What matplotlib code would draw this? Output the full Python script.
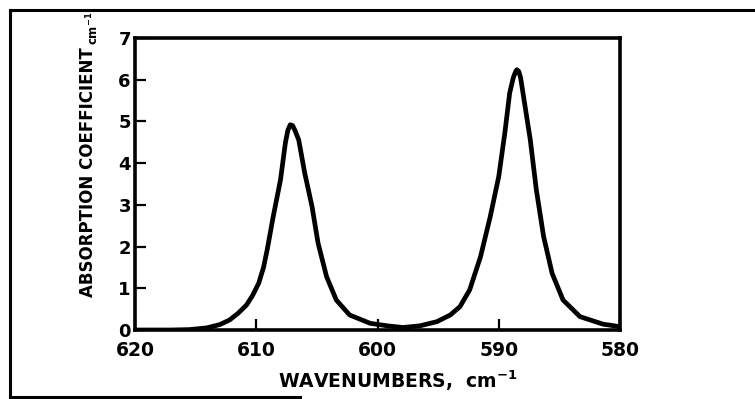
import numpy as np
import matplotlib.pyplot as plt
from matplotlib.lines import Line2D

# absorption spectrum (wavenumber in cm-1, coefficient in cm-1)
wavenumber = [620.0, 617.0, 615.5, 614.1, 613.0, 612.2, 611.5, 610.8, 610.3, 609.8,
              609.4, 609.1, 608.6, 608.0, 607.6, 607.4, 607.2, 607.0, 606.8, 606.5,
              606.0, 605.4, 604.9, 604.2, 603.4, 602.3, 600.6, 599.2, 597.9, 596.5,
              595.1, 594.0, 593.2, 592.4, 591.5, 590.7, 590.0, 589.5, 589.1, 588.8,
              588.6, 588.5, 588.35, 588.2, 588.0, 587.4, 586.9, 586.3, 585.6, 584.7,
              583.3, 581.4, 580.0]
coefficient = [0.0, 0.0, 0.01, 0.05, 0.13, 0.24, 0.4, 0.6, 0.83, 1.12,
               1.5, 1.92, 2.72, 3.6, 4.48, 4.78, 4.92, 4.9, 4.78, 4.56,
               3.76, 2.96, 2.08, 1.28, 0.72, 0.36, 0.16, 0.1, 0.06, 0.1,
               0.2, 0.36, 0.56, 0.96, 1.76, 2.72, 3.68, 4.72, 5.68, 6.05,
               6.2, 6.24, 6.2, 6.05, 5.68, 4.56, 3.36, 2.24, 1.36, 0.72,
               0.32, 0.14, 0.08]

xticks = [620, 610, 600, 590, 580]
yticks = [0, 1, 2, 3, 4, 5, 6, 7]

W, H = 755, 399
fig = plt.figure(figsize=(W / 100, H / 100), dpi=100)
fig.patch.set_facecolor('white')

ax = fig.add_axes([135 / W, 1 - 330 / H, 485 / W, 292 / H])
ax.plot(wavenumber, coefficient, color='black', lw=3.4, solid_capstyle='round', solid_joinstyle='round')
ax.set_xlim(620, 580)
ax.set_ylim(0, 7)
ax.set_xticks(xticks)
ax.set_yticks(yticks)
ax.set_xticklabels([str(t) for t in xticks], fontsize=13.5, fontweight='bold')
ax.set_yticklabels([str(t) for t in yticks], fontsize=13, fontweight='bold')
ax.tick_params(axis='both', direction='in', length=8, width=1.6, color='black')
ax.tick_params(axis='x', pad=8)
ax.tick_params(axis='y', pad=3)
for s in ax.spines.values():
    s.set_linewidth(2.6)
    s.set_color('black')

fig.text(398 / W, 1 - 381 / H, 'WAVENUMBERS,  cm$^{\\mathbf{-1}}$', ha='center', va='center',
         fontsize=13.5, fontweight='bold')
fig.text(88 / W, 1 - 172 / H, 'ABSORPTION COEFFICIENT', ha='center', va='center',
         rotation=90, fontsize=12, fontweight='bold')
fig.text(93 / W, 1 - 28 / H, 'cm$^{\\mathbf{-1}}$', ha='center', va='center',
         rotation=90, fontsize=8.5, fontweight='bold')

# outer frame of the scanned page
frame = dict(color='black', lw=2.2, transform=fig.transFigure)
fig.add_artist(Line2D([10 / W, 1.0], [1 - 10 / H, 1 - 10 / H], **frame))
fig.add_artist(Line2D([10 / W, 10 / W], [1 - 10 / H, 1 - 397 / H], **frame))
fig.add_artist(Line2D([10 / W, 300 / W], [1 - 397 / H, 1 - 397 / H], **frame))

fig.savefig('out.png', dpi=100)
